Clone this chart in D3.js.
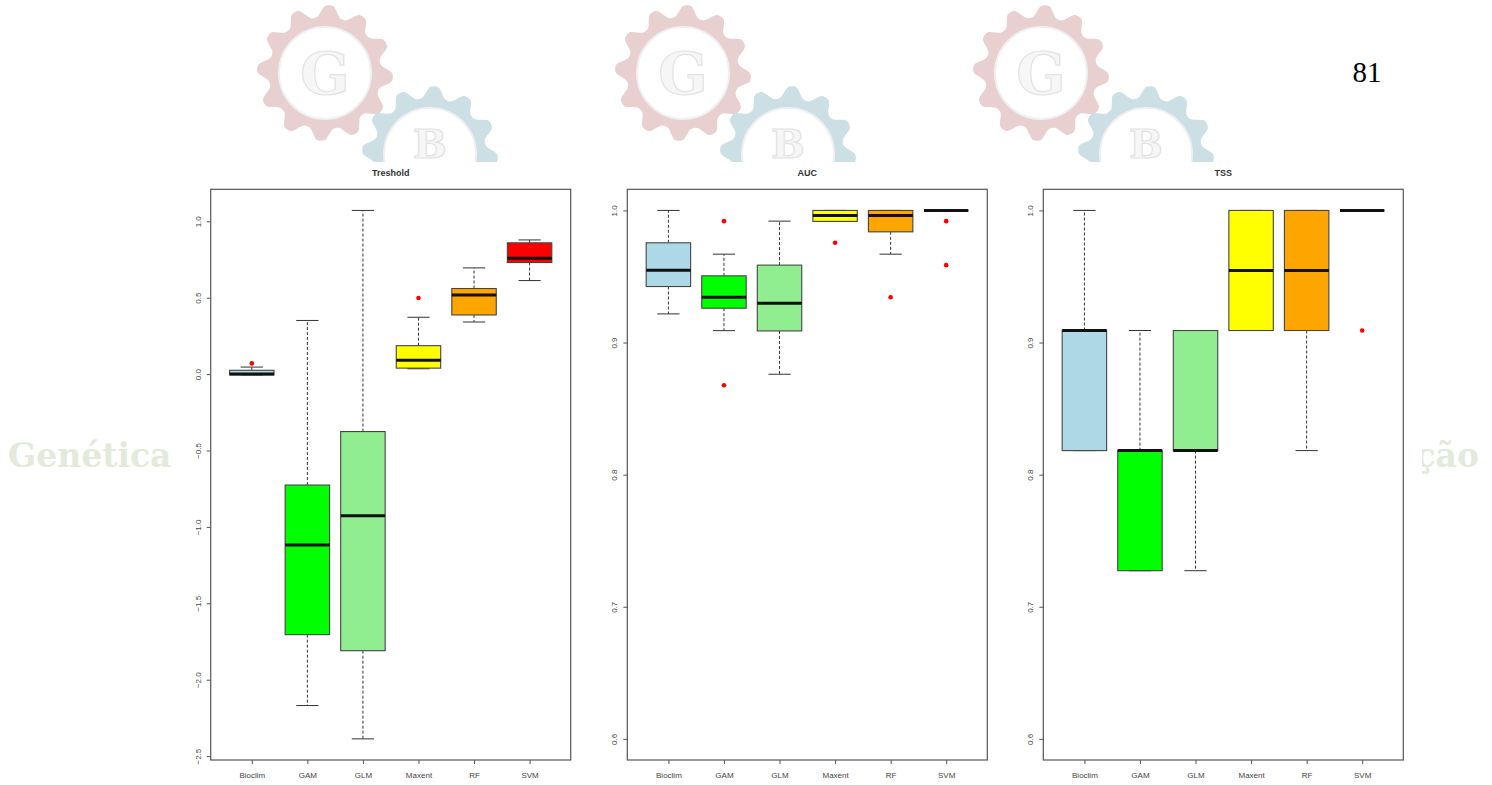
<!DOCTYPE html>
<html>
<head>
<meta charset="utf-8">
<script src="https://cdn.jsdelivr.net/npm/d3@7"></script>
<style>
  body { margin: 0; background: #fff; }
  svg text { font-family: "Liberation Sans", Arial, sans-serif; }
</style>
</head>
<body>
<div class="holder"></div>
<script>
// Models on the x axis and their box colours
const models = ["Bioclim", "GAM", "GLM", "Maxent", "RF", "SVM"];
const boxFills = ["lightblue", "#00ff00", "lightgreen", "yellow", "orange", "red"];

// Box stats per model: [lower whisker, q1, median, q3, upper whisker]
const tresholdStats = [
  [-0.005, -0.005, 0.0, 0.025, 0.046],
  [-2.169, -1.705, -1.119, -0.726, 0.351],
  [-2.387, -1.81, -0.927, -0.376, 1.071],
  [0.035, 0.039, 0.09, 0.186, 0.372],
  [0.341, 0.387, 0.518, 0.56, 0.695],
  [0.612, 0.73, 0.758, 0.859, 0.878]
];
const tresholdOutliers = [[0.07], [], [], [0.498], [], []];

const aucStats = [
  [0.9217, 0.9424, 0.9548, 0.9755, 1.0],
  [0.909, 0.926, 0.9343, 0.9505, 0.9669],
  [0.876, 0.9088, 0.9298, 0.9586, 0.9919],
  [0.9917, 0.9917, 0.9962, 1.0, 1.0],
  [0.9669, 0.9838, 0.9962, 1.0, 1.0],
  [1.0, 1.0, 1.0, 1.0, 1.0]
];
const aucOutliers = [[], [0.9919, 0.8677], [], [0.9755], [0.9343], [0.9919, 0.9586]];

const tssStats = [
  [0.8182, 0.8182, 0.9091, 0.9091, 1.0],
  [0.7273, 0.7273, 0.8182, 0.8182, 0.9091],
  [0.7273, 0.8182, 0.8182, 0.9091, 0.9091],
  [0.9091, 0.9091, 0.9545, 1.0, 1.0],
  [0.8182, 0.9091, 0.9545, 1.0, 1.0],
  [1.0, 1.0, 1.0, 1.0, 1.0]
];
const tssOutliers = [[], [], [], [], [], [0.9091]];

// Tick values
const tresholdTicks = [-2.5, -2.0, -1.5, -1.0, -0.5, 0.0, 0.5, 1.0];
const scoreTicks = [0.6, 0.7, 0.8, 0.9, 1.0];

const panels = [
  { title: "Treshold", stats: tresholdStats, outliers: tresholdOutliers, ticks: tresholdTicks, ylim: null, left: 210.7 },
  { title: "AUC", stats: aucStats, outliers: aucOutliers, ticks: scoreTicks, ylim: [0.6, 1.0], left: 627.3 },
  { title: "TSS", stats: tssStats, outliers: tssOutliers, ticks: scoreTicks, ylim: [0.6, 1.0], left: 1043.3 }
];

const width = 1492;
const height = 785;
const plotW = 360;
const plotTop = 189.3;
const plotBottom = 760;

const svg = d3.select('.holder').append('svg')
  .attr('width', width)
  .attr('height', height);

// clip for the gears, the chart image covers them below y=162
svg.append('defs').append('clipPath')
  .attr('id', 'wmclip')
  .append('rect')
  .attr('x', 0).attr('y', 0)
  .attr('width', width).attr('height', 162);

// --- watermark behind the chart ---
const wm = svg.append('g').attr('clip-path', 'url(#wmclip)');
const gearLine = d3.lineRadial().curve(d3.curveCardinalClosed.tension(0.2));
function gear(cx, cy, color, letter, fs, ty) {
  const pts = d3.range(48).map(k => [k * 2 * Math.PI / 48, (k % 4 < 2) ? 67 : 57]);
  const g = wm.append('g').attr('transform', 'translate(' + cx + ',' + cy + ')');
  g.append('path').attr('d', gearLine(pts)).attr('fill', color);
  g.append('circle').attr('r', 46).attr('fill', '#fff').attr('stroke', '#f0f0f0').attr('stroke-width', 2);
  g.append('text')
    .attr('y', ty)
    .attr('text-anchor', 'middle')
    .style('font-family', '"DejaVu Serif", serif')
    .style('font-weight', 'bold')
    .style('font-size', fs + 'px')
    .attr('fill', '#f6f6f6')
    .attr('stroke', '#e2e2e2')
    .attr('stroke-width', 1.2)
    .text(letter);
}
[325, 683, 1041].forEach(cx => {
  gear(cx, 73, '#e8cfd0', 'G', 58, 21);
  gear(cx + 105, 154, '#cbdfe5', 'B', 40, 4);
});

svg.append('text')
  .attr('x', 8)
  .attr('y', 467)
  .style('font-family', '"DejaVu Serif", serif')
  .style('font-weight', 'bold')
  .style('font-size', '33px')
  .attr('fill', '#e3eadb')
  .text('Genética');

svg.append('text')
  .attr('x', 1479)
  .attr('y', 467)
  .attr('text-anchor', 'end')
  .style('font-family', '"DejaVu Serif", serif')
  .style('font-weight', 'bold')
  .style('font-size', '33px')
  .attr('fill', '#e3eadb')
  .text('ção');

svg.append('text')
  .attr('x', 1367)
  .attr('y', 82)
  .attr('text-anchor', 'middle')
  .style('font-family', '"Liberation Serif", "Times New Roman", serif')
  .style('font-size', '29px')
  .attr('fill', '#000')
  .text('81');

// white chart image
svg.append('rect')
  .attr('x', 175).attr('y', 162)
  .attr('width', 1247).attr('height', 623)
  .attr('fill', '#fff');

// --- the three box plots ---
panels.forEach(p => {
  const g = svg.append('g');

  let lim = p.ylim;
  if (!lim) {
    const all = p.stats.flat().concat(p.outliers.flat());
    lim = d3.extent(all);
  }
  const pad = (lim[1] - lim[0]) * 0.04;

  const x = d3.scaleLinear()
    .domain([0.26, 6.74])
    .range([p.left, p.left + plotW]);
  const y = d3.scaleLinear()
    .domain([lim[0] - pad, lim[1] + pad])
    .range([plotBottom, plotTop]);

  // boxes
  p.stats.forEach((s, i) => {
    const cx = x(i + 1);
    const hw = x(0.4) - x(0);
    const cw = x(0.2) - x(0);

    // whiskers
    g.append('line')
      .attr('x1', cx).attr('x2', cx)
      .attr('y1', y(s[3])).attr('y2', y(s[4]))
      .attr('stroke', '#333').attr('stroke-dasharray', '3,2');
    g.append('line')
      .attr('x1', cx).attr('x2', cx)
      .attr('y1', y(s[1])).attr('y2', y(s[0]))
      .attr('stroke', '#333').attr('stroke-dasharray', '3,2');
    // caps
    [s[0], s[4]].forEach(v => {
      g.append('line')
        .attr('x1', cx - cw).attr('x2', cx + cw)
        .attr('y1', y(v)).attr('y2', y(v))
        .attr('stroke', '#333');
    });
    // box
    g.append('rect')
      .attr('x', cx - hw)
      .attr('y', y(s[3]))
      .attr('width', 2 * hw)
      .attr('height', Math.max(0, y(s[1]) - y(s[3])))
      .attr('fill', boxFills[i])
      .attr('stroke', '#444')
      .attr('stroke-width', 1.1);
    // median
    g.append('line')
      .attr('x1', cx - hw).attr('x2', cx + hw)
      .attr('y1', y(s[2])).attr('y2', y(s[2]))
      .attr('stroke', '#111').attr('stroke-width', 3);

    // outliers
    p.outliers[i].forEach(v => {
      g.append('circle')
        .attr('cx', cx).attr('cy', y(v))
        .attr('r', 2.3)
        .attr('fill', 'red');
    });
  });

  // frame
  g.append('rect')
    .attr('x', p.left).attr('y', plotTop)
    .attr('width', plotW).attr('height', plotBottom - plotTop)
    .attr('fill', 'none')
    .attr('stroke', '#555')
    .attr('stroke-width', 1.2);

  // y axis
  const yAxis = g.append('g')
    .attr('transform', 'translate(' + p.left + ',0)')
    .call(d3.axisLeft(y).tickValues(p.ticks).tickFormat(d3.format('.1f')).tickSize(4).tickSizeOuter(0));
  yAxis.select('.domain').remove();
  yAxis.selectAll('line').attr('stroke', '#555');
  yAxis.selectAll('text')
    .attr('transform', 'rotate(-90)')
    .attr('x', 0)
    .attr('y', -10)
    .attr('dy', 0)
    .attr('text-anchor', 'middle')
    .attr('fill', '#444')
    .style('font-size', '8px');

  // x axis
  const xAxis = g.append('g')
    .attr('transform', 'translate(0,' + plotBottom + ')')
    .call(d3.axisBottom(x).tickValues(d3.range(1, 7)).tickFormat(d => models[d - 1]).tickSize(4).tickSizeOuter(0));
  xAxis.select('.domain').remove();
  xAxis.selectAll('line').attr('stroke', '#555');
  xAxis.selectAll('text')
    .attr('y', 18)
    .attr('dy', 0)
    .attr('fill', '#444')
    .style('font-size', '8px');

  // title
  g.append('text')
    .attr('x', p.left + plotW / 2)
    .attr('y', 176)
    .attr('text-anchor', 'middle')
    .attr('fill', '#333')
    .style('font-size', '9px')
    .style('font-weight', 'bold')
    .text(p.title);
});
</script>
</body>
</html>
